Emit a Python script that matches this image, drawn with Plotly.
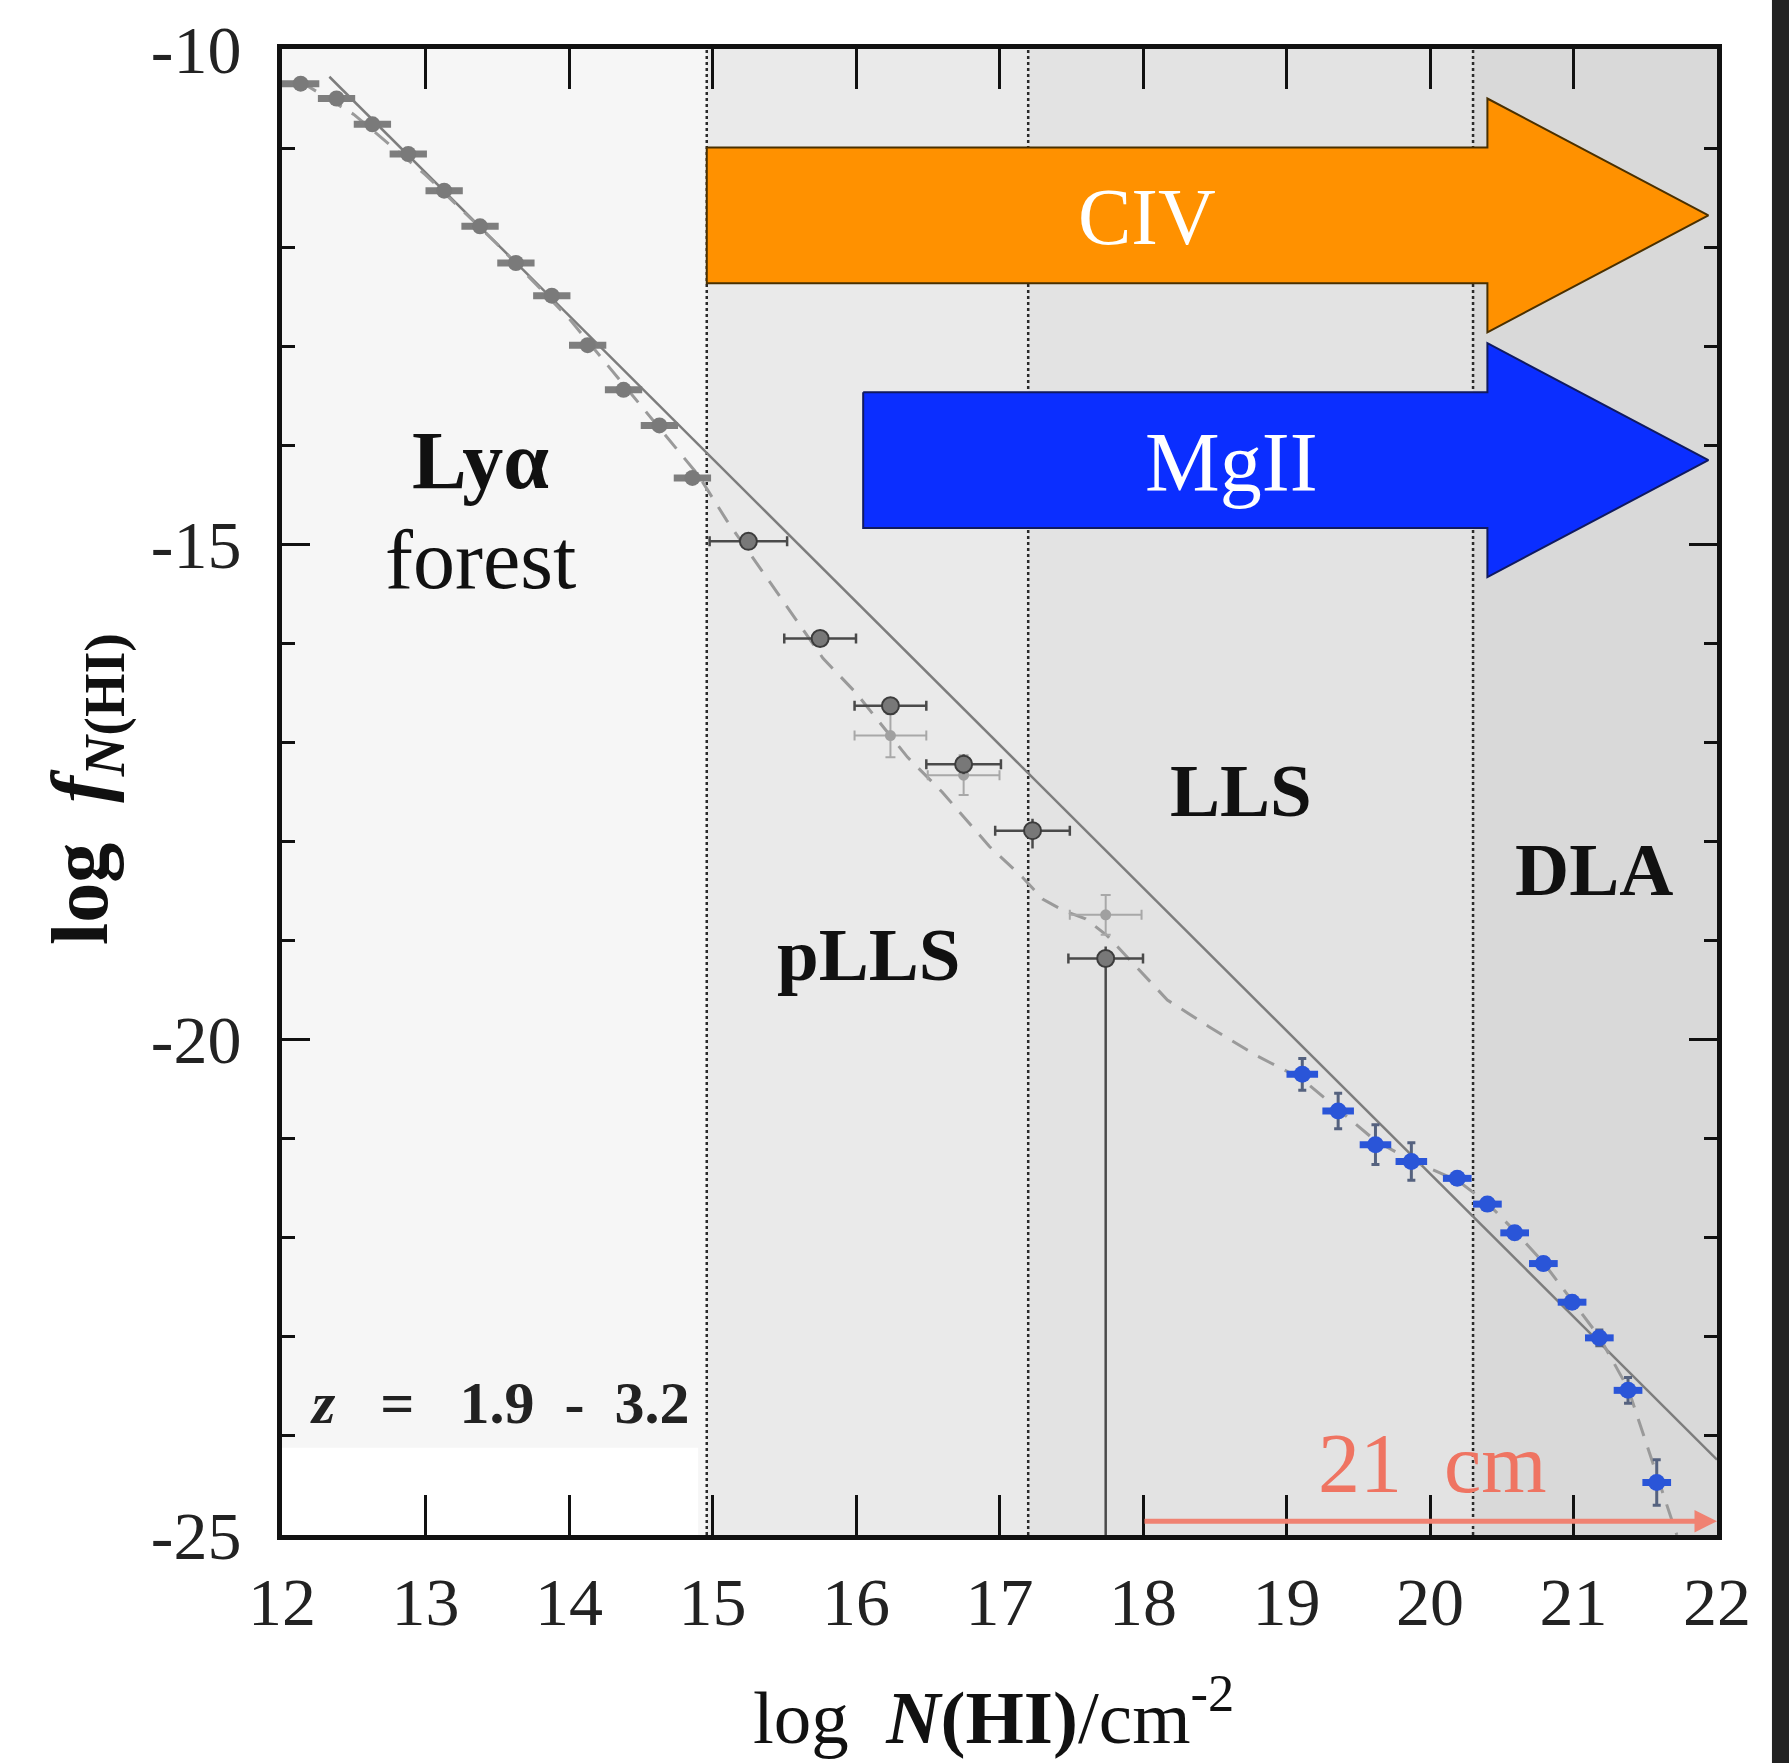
import plotly.graph_objects as go

# ---------------- data: column density distribution f(N_HI) ----------------
# Lyman-alpha forest measurements
lya_logN = [12.13, 12.38, 12.63, 12.88, 13.13, 13.38, 13.63, 13.88, 14.13, 14.38, 14.63, 14.86]
lya_logf = [-10.35, -10.50, -10.76, -11.06, -11.43, -11.79, -12.16, -12.49, -12.99, -13.44, -13.80, -14.33]
lya_dN = [0.13, 0.13, 0.13, 0.13, 0.13, 0.13, 0.13, 0.13, 0.13, 0.13, 0.13, 0.13]

# partial / Lyman-limit systems
plls_logN = [15.25, 15.75, 16.24, 16.75, 17.23, 17.74]
plls_logf = [-14.97, -15.95, -16.63, -17.22, -17.89, -19.18]
plls_dN = [0.27, 0.25, 0.25, 0.26, 0.26, 0.26]
plls_df_up = [0.06, 0.07, 0.08, 0.10, 0.12, 0.12]
plls_df_dn = [0.06, 0.07, 0.08, 0.10, 0.18, 5.82]

# second LLS sample
alt_logN = [16.24, 16.75, 17.74]
alt_logf = [-16.93, -17.33, -18.74]
alt_dN = [0.25, 0.25, 0.25]
alt_df = [0.22, 0.20, 0.20]

# damped Lyman-alpha / super-LLS measurements
dla_logN = [19.11, 19.36, 19.62, 19.87, 20.19, 20.40, 20.59, 20.79, 20.99, 21.18, 21.38, 21.58]
dla_logf = [-20.35, -20.72, -21.06, -21.23, -21.40, -21.66, -21.95, -22.26, -22.65, -23.01, -23.54, -24.47]
dla_dN = [0.11, 0.11, 0.11, 0.11, 0.10, 0.10, 0.10, 0.10, 0.10, 0.10, 0.10, 0.10]
dla_df = [0.16, 0.18, 0.20, 0.19, 0.06, 0.06, 0.06, 0.06, 0.06, 0.08, 0.13, 0.23]

# single power-law fit
fit_logN = [12.33, 22.0]
fit_logf = [-10.28, -24.24]

# piecewise model of f(N)
model_logN = [12.13, 12.50, 13.00, 13.50, 14.00, 14.50, 14.90, 15.10, 15.45, 15.77, 16.00,
              16.36, 16.60, 16.93, 17.16, 17.30, 17.45, 17.60, 17.75, 17.95, 18.17, 18.46,
              18.79, 19.11, 19.36, 19.62, 19.87, 20.19, 20.40, 20.59, 20.79, 20.99, 21.18,
              21.38, 21.58, 21.72]
model_logf = [-10.33, -10.66, -11.27, -11.97, -12.72, -13.60, -14.30, -14.76, -15.49, -16.15, -16.50,
              -17.15, -17.50, -18.05, -18.36, -18.58, -18.70, -18.78, -18.95, -19.26, -19.60, -19.87,
              -20.16, -20.40, -20.70, -21.02, -21.22, -21.42, -21.65, -21.93, -22.25, -22.63, -23.00,
              -23.52, -24.40, -25.00]

# absorber classes and their log N(HI) boundaries
region_edges = [12.0, 14.96, 17.2, 20.3, 22.0]
region_fill = ["#f6f6f6", "#eaeaea", "#e3e3e3", "#d9d9d9"]

# metal-line tracers and the log N(HI) range they probe
ion_names = ["CIV", "MgII"]
ion_logN_min = [14.96, 16.05]
ion_logN_max = [21.94, 21.94]
h21_logN_min = 18.0

# axis ticks
x_tickvals = [12, 13, 14, 15, 16, 17, 18, 19, 20, 21, 22]
x_ticktext = ["12", "13", "14", "15", "16", "17", "18", "19", "20", "21", "22"]
y_tickvals = [-25, -20, -15, -10]
y_ticktext = ["-25", "-20", "-15", "-10"]

# ---------------- styling ----------------
FONT = "Liberation Serif"
ion_colors = ["#ff9100", "#0b2eff"]
ion_edges = ["#4a3000", "#101a60"]
ion_center_y = [-11.68, -14.15]
ion_label_x = [18.03, 18.62]
ion_label_size = [80, 84]
BODY_HALF = 0.685
HEAD_HALF = 1.18
HEAD_START = 20.40
NB = "\u00a0"

fig = go.Figure()

shapes = []
# shaded background per absorber class
for i in range(4):
    shapes.append(dict(type="rect", xref="x", yref="y", x0=region_edges[i], x1=region_edges[i + 1],
                       y0=-25, y1=-10, fillcolor=region_fill[i], line_width=0, layer="below"))
shapes.append(dict(type="rect", xref="x", yref="y", x0=12.0, x1=14.9, y0=-25, y1=-24.12,
                   fillcolor="#ffffff", line_width=0, layer="below"))
# class boundaries
for xb in region_edges[1:4]:
    shapes.append(dict(type="line", xref="x", yref="y", x0=xb, x1=xb, y0=-25, y1=-10,
                       line=dict(color="#2a2a2a", width=2.5, dash="dot"), layer="below"))
# dark strip at right edge of the canvas
shapes.append(dict(type="rect", xref="paper", yref="paper", x0=1.0383, x1=1.06, y0=-0.16, y1=1.04,
                   fillcolor="#222222", line_width=0, layer="above"))

# metal-line arrows
for k in range(2):
    x0, x1 = ion_logN_min[k], ion_logN_max[k]
    yc = ion_center_y[k]
    px = [x0, HEAD_START, HEAD_START, x1, HEAD_START, HEAD_START, x0, x0]
    py = [yc + BODY_HALF, yc + BODY_HALF, yc + HEAD_HALF, yc, yc - HEAD_HALF, yc - BODY_HALF,
          yc - BODY_HALF, yc + BODY_HALF]
    fig.add_trace(go.Scatter(x=px, y=py, mode="lines", fill="toself", fillcolor=ion_colors[k],
                             line=dict(color=ion_edges[k], width=2), hoverinfo="skip",
                             showlegend=False))

# power-law fit and model
fig.add_trace(go.Scatter(x=fit_logN, y=fit_logf, mode="lines",
                         line=dict(color="#7d7d7d", width=2.5), showlegend=False))
fig.add_trace(go.Scatter(x=model_logN, y=model_logf, mode="lines",
                         line=dict(color="#9a9a9a", width=3, dash="18px,12px"), showlegend=False))

# measurements
fig.add_trace(go.Scatter(x=lya_logN, y=lya_logf, mode="markers",
                         marker=dict(size=16, color="#7a7a7a"),
                         error_x=dict(type="data", array=lya_dN, color="#7e7e7e", thickness=7, width=0),
                         showlegend=False))
fig.add_trace(go.Scatter(x=alt_logN, y=alt_logf, mode="markers",
                         marker=dict(size=11, color="#a0a0a0"),
                         error_x=dict(type="data", array=alt_dN, color="#a8a8a8", thickness=2, width=5),
                         error_y=dict(type="data", array=alt_df, color="#a8a8a8", thickness=2, width=5),
                         showlegend=False))
fig.add_trace(go.Scatter(x=plls_logN, y=plls_logf, mode="markers",
                         marker=dict(size=17, color="#787878", line=dict(color="#3c3c3c", width=2)),
                         error_x=dict(type="data", array=plls_dN, color="#4a4a4a", thickness=2.5, width=5),
                         error_y=dict(type="data", symmetric=False, array=plls_df_up,
                                      arrayminus=plls_df_dn, color="#4a4a4a", thickness=2.5, width=0),
                         showlegend=False))
fig.add_trace(go.Scatter(x=dla_logN, y=dla_logf, mode="markers",
                         marker=dict(size=17, color="#2a55d8"),
                         error_x=dict(type="data", array=dla_dN, color="#2a55d8", thickness=7, width=0),
                         error_y=dict(type="data", array=dla_df, color="#55627f", thickness=3, width=4),
                         showlegend=False))

annotations = []
# 21 cm arrow
annotations.append(dict(x=22.0, y=-24.86, ax=h21_logN_min, ay=-24.86, xref="x", yref="y",
                        axref="x", ayref="y", text="", showarrow=True, arrowhead=2, arrowsize=0.9,
                        arrowwidth=5, arrowcolor="#f08272", standoff=0, startstandoff=0))
annotations.append(dict(x=20.02, y=-24.28, xref="x", yref="y", text="21" + NB * 2 + "cm",
                        showarrow=False, font=dict(family=FONT, size=84, color="#ef7462")))

# arrow labels
for k in range(2):
    annotations.append(dict(x=ion_label_x[k], y=ion_center_y[k] - 0.02, xref="x", yref="y",
                            text=ion_names[k], showarrow=False,
                            font=dict(family=FONT, size=ion_label_size[k], color="#ffffff")))

# class labels
bold_font = dict(family=FONT, size=75, color="#111111")
annotations += [
    dict(x=13.38, y=-14.15, text="<b>Lyα</b>", font=dict(family=FONT, size=82, color="#111111")),
    dict(x=13.38, y=-15.15, text="forest", font=dict(family=FONT, size=84, color="#111111")),
    dict(x=16.09, y=-19.14, text="<b>pLLS</b>", font=bold_font),
    dict(x=18.68, y=-17.48, text="<b>LLS</b>", font=bold_font),
    dict(x=21.14, y=-18.28, text="<b>DLA</b>", font=bold_font),
    dict(x=13.52, y=-23.67,
         text="<b><i>z</i>" + NB * 3 + "=" + NB * 3 + "1.9" + NB * 2 + "-" + NB * 2 + "3.2</b>",
         font=dict(family=FONT, size=60, color="#222222")),
]
for a in annotations[-6:]:
    a.update(xref="x", yref="y", showarrow=False)

# axis titles
annotations.append(dict(x=-0.1366, y=0.502, xref="paper", yref="paper", textangle=-90,
                        xanchor="center", yanchor="middle",
                        text="<b>log</b>" + NB * 2 + "<b><i>f</i></b><sub><b><i>N</i>(HI)</b></sub>",
                        showarrow=False, font=dict(family=FONT, size=80, color="#111111")))
annotations.append(dict(x=0.4955, y=-0.119, xref="paper", yref="paper",
                        xanchor="center", yanchor="middle",
                        text="log" + NB * 2 + "<b><i>N</i>(HI)</b>/cm<sup>-2</sup>",
                        showarrow=False, font=dict(family=FONT, size=75, color="#111111")))

fig.update_layout(
    width=1789, height=1763,
    margin=dict(l=282, r=72, t=44, b=228),
    paper_bgcolor="#ffffff", plot_bgcolor="#ffffff",
    shapes=shapes, annotations=annotations,
    font=dict(family=FONT, color="#222222"),
)
fig.update_xaxes(range=[12, 22], tickvals=x_tickvals, ticktext=x_ticktext,
                 ticks="inside", ticklen=40, tickwidth=3, tickcolor="#111",
                 showline=True, linewidth=5, linecolor="#111", mirror="ticks",
                 showgrid=False, zeroline=False, ticklabelstandoff=3,
                 tickfont=dict(family=FONT, size=68, color="#222"))
fig.update_yaxes(range=[-25, -10], tickvals=y_tickvals, ticktext=y_ticktext,
                 ticks="inside", ticklen=28, tickwidth=3, tickcolor="#111",
                 minor=dict(dtick=1, ticks="inside", ticklen=13, tickwidth=3, tickcolor="#111"),
                 showline=True, linewidth=5, linecolor="#111", mirror="ticks",
                 showgrid=False, zeroline=False, ticklabelstandoff=22,
                 tickfont=dict(family=FONT, size=68, color="#222"))

fig.write_html("out.html")
